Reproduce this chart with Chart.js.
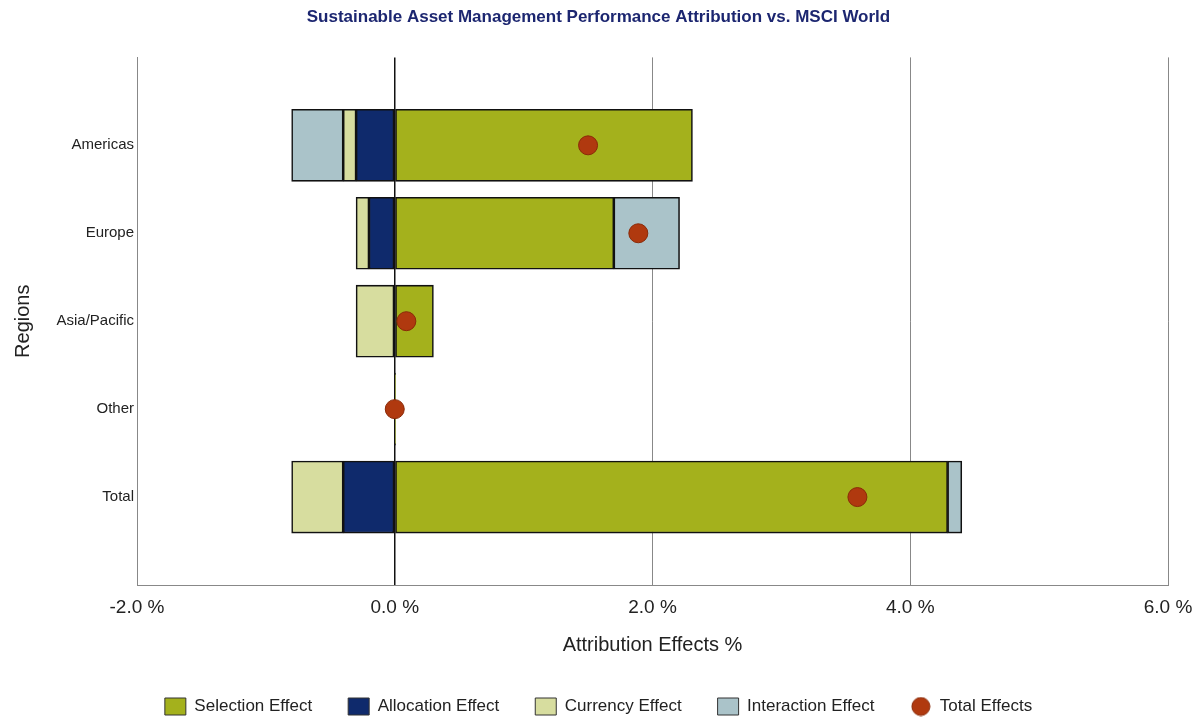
<!DOCTYPE html>
<html lang="en">
<head>
  <meta charset="UTF-8">
  <title>Performance Attribution</title>
  <script src="https://cdn.jsdelivr.net/npm/chart.js"></script>
  <style>
    html, body { margin: 0; padding: 0; background: #fff; }
    #chart-container { width: 1197px; height: 719px; }
  </style>
</head>
<body>
<div id="chart-container">
  <canvas id="grafico"></canvas>
</div>

<script>
  const regions = ['Americas', 'Europe', 'Asia/Pacific', 'Other', 'Total'];
  const selection = [2.31, 1.70, 0.30, 0.005, 4.29];
  const allocation = [-0.30, -0.20, 0, 0, -0.40];
  const currency = [-0.10, -0.10, -0.30, 0, -0.40];
  const interaction = [-0.40, 0.51, 0, 0, 0.11];
  const totalEffects = [1.50, 1.89, 0.09, 0.0, 3.59];
  const xTicks = [-2, 0, 2, 4, 6];

  const narrow = "'Liberation Sans Narrow', 'Arial Narrow', Arial, sans-serif";
  const plain = "Arial, 'Liberation Sans', sans-serif";

  // blank slots above and below so the rows sit like the original
  const labels = [''].concat(regions, ['']);
  const pad = arr => [null].concat(arr, [null]);

  // circle for the legend item of the points
  const dot = document.createElement('canvas');
  dot.width = 20; dot.height = 20;
  const dctx = dot.getContext('2d');
  dctx.beginPath();
  dctx.arc(10, 10, 9, 0, Math.PI * 2);
  dctx.fillStyle = '#b0390f';
  dctx.fill();
  dctx.strokeStyle = '#8a2a08';
  dctx.stroke();

  function barSet(label, data, color) {
    return {
      label: label,
      data: pad(data),
      backgroundColor: color,
      borderColor: '#111',
      borderWidth: 1.6,
      borderSkipped: false,
      barThickness: 72,
      stack: 'efectos',
      pointStyle: 'rect',
      order: 2
    };
  }

  new Chart(document.getElementById('grafico'), {
    type: 'bar',
    data: {
      labels: labels,
      datasets: [
        barSet('Selection Effect', selection, '#a4b11c'),
        barSet('Allocation Effect', allocation, '#0f2a6c'),
        barSet('Currency Effect', currency, '#d7dd9f'),
        barSet('Interaction Effect', interaction, '#aac3c9'),
        {
          type: 'line',
          label: 'Total Effects',
          data: pad(totalEffects),
          showLine: false,
          stack: 'total',
          pointRadius: 9.5,
          pointHoverRadius: 9.5,
          pointBackgroundColor: '#b0390f',
          pointBorderColor: '#8a2a08',
          pointBorderWidth: 1,
          backgroundColor: '#b0390f',
          borderColor: '#8a2a08',
          pointStyle: 'circle',
          order: 1
        }
      ]
    },
    options: {
      indexAxis: 'y',
      responsive: true,
      maintainAspectRatio: false,
      animation: false,
      layout: { padding: { left: 0, right: 0, top: 0, bottom: -6 } },
      plugins: {
        title: {
          display: true,
          text: 'Sustainable Asset Management Performance Attribution vs. MSCI World',
          color: '#1c2670',
          font: { family: narrow, size: 17, weight: 'bold' },
          padding: { top: 7, bottom: 30 }
        },
        legend: {
          position: 'bottom',
          labels: {
            usePointStyle: true,
            pointStyleWidth: 21,
            boxHeight: 17,
            padding: 36,
            color: '#222',
            font: { family: narrow, size: 17 },
            sort: (a, b) => a.datasetIndex - b.datasetIndex,
            generateLabels(chart) {
              const items = Chart.defaults.plugins.legend.labels.generateLabels(chart);
              items.forEach(it => {
                if (it.text === 'Total Effects') {
                  it.pointStyle = dot;
                } else {
                  it.pointStyle = 'rect';
                  it.strokeStyle = '#333';
                  it.lineWidth = 1;
                }
              });
              return items;
            }
          }
        },
        tooltip: { enabled: false }
      },
      scales: {
        x: {
          stacked: true,
          min: -2,
          max: 6,
          afterBuildTicks(scale) {
            scale.ticks = xTicks.map(v => ({ value: v }));
          },
          afterFit(scale) {
            scale.height = 77;
            scale.paddingRight = 29;
          },
          border: { color: '#888', width: 1 },
          grid: {
            drawTicks: false,
            color: ctx => (ctx.tick && ctx.tick.value === 0) ? '#111' : '#888',
            lineWidth: ctx => (ctx.tick && ctx.tick.value === 0) ? 1.5 : 1
          },
          ticks: {
            padding: 11,
            color: '#222',
            font: { family: narrow, size: 19 },
            callback: v => v.toFixed(1) + ' %'
          },
          title: {
            display: true,
            text: 'Attribution Effects %',
            color: '#222',
            font: { family: plain, size: 20 },
            padding: { top: 10, bottom: 5 }
          }
        },
        y: {
          stacked: true,
          offset: false,
          afterFit(scale) { scale.width = 137; },
          border: { color: '#888', width: 1 },
          grid: {
            drawTicks: false,
            color: ctx => (ctx.index === 0) ? '#888' : 'rgba(0,0,0,0)'
          },
          ticks: {
            padding: 3,
            color: '#222',
            font: { family: narrow, size: 15 }
          },
          title: {
            display: true,
            text: 'Regions',
            color: '#222',
            font: { family: plain, size: 20 },
            padding: { top: 11, bottom: 10 }
          }
        }
      }
    }
  });
</script>
</body>
</html>
